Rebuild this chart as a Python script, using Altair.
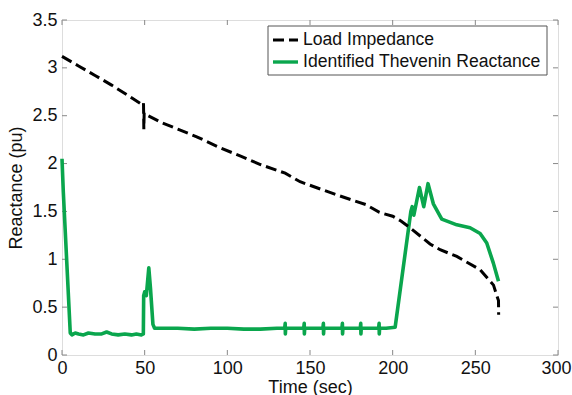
import altair as alt
import pandas as pd

# ---- data ----
load_t = [0, 10, 20, 30, 41, 49, 49.3, 49.5, 49.7, 51, 60, 70, 81.5, 95, 107.7, 120, 135, 144,
          165, 184, 192, 200, 205, 210.5, 222.6, 228.7, 238.8, 253, 261, 263, 264, 264.1]
load_v = [3.12, 3.02, 2.92, 2.82, 2.70, 2.61, 2.63, 2.36, 2.53, 2.51, 2.43, 2.36, 2.28, 2.17, 2.08,
          1.99, 1.90, 1.81, 1.68, 1.57, 1.49, 1.45, 1.40, 1.33, 1.16, 1.10, 1.03, 0.89, 0.73, 0.62,
          0.57, 0.42]

thev_t = [0, 0.8, 5, 6, 8, 10, 13, 16, 20, 24, 27, 30, 34, 38, 42, 45, 48, 49.2, 49.4, 50, 51,
          52.5, 53.5, 55, 56, 60, 70, 80, 90, 100, 110, 120, 130,
          134.7, 135, 135.1, 135.3, 146.2, 146.5, 146.6, 146.8, 157.8, 158.1, 158.2, 158.4,
          169.3, 169.6, 169.7, 169.9, 180.4, 180.7, 180.8, 181.0, 191.5, 191.8, 191.9, 192.1,
          196, 201.5, 211, 211.8, 212.8, 216.2, 218.8, 221.4, 224.6, 229.7, 238.8, 246.8,
          252.9, 256.9, 260.9, 264]
thev_v = [2.05, 1.70, 0.23, 0.21, 0.23, 0.22, 0.21, 0.23, 0.22, 0.22, 0.24, 0.22, 0.21, 0.22, 0.21,
          0.22, 0.21, 0.22, 0.62, 0.66, 0.62, 0.91, 0.70, 0.32, 0.28, 0.28, 0.28, 0.27, 0.28, 0.28,
          0.27, 0.27, 0.28,
          0.28, 0.33, 0.22, 0.28, 0.28, 0.33, 0.22, 0.28, 0.28, 0.33, 0.22, 0.28,
          0.28, 0.33, 0.22, 0.28, 0.28, 0.33, 0.22, 0.28, 0.28, 0.33, 0.22, 0.28,
          0.28, 0.29, 1.50, 1.55, 1.46, 1.75, 1.55, 1.79, 1.58, 1.42, 1.36, 1.33,
          1.27, 1.17, 0.96, 0.77]

series_names = ["Load Impedance", "Identified Thevenin Reactance"]
series_colors = ["#000000", "#0aa64d"]
x_ticks = [0, 50, 100, 150, 200, 250, 300]
y_ticks = [0, 0.5, 1, 1.5, 2, 2.5, 3, 3.5]

load_df = pd.DataFrame({"t": load_t, "v": load_v, "series": series_names[0]})
thev_df = pd.DataFrame({"t": thev_t, "v": thev_v, "series": series_names[1]})
xt_df = pd.DataFrame({"t": x_ticks})
yt_df = pd.DataFrame({"v": y_ticks})

W, H = 496, 335
FONT = "Liberation Sans"
FS = 18
LFS = 17.6
DASH = [11, 5]

xscale = alt.Scale(domain=[0, 300], nice=False, zero=False)
yscale = alt.Scale(domain=[0, 3.5], nice=False, zero=False)

xax = alt.X("t:Q", scale=xscale, axis=alt.Axis(
    title="Time (sec)", values=x_ticks, tickSize=0, domain=False, grid=False,
    labelFontSize=FS, labelPadding=4, titleFontSize=FS,
    titleY=37, titleBaseline="alphabetic",
    labelOffset={"condition": {"test": "datum.value >= 300", "value": -2}, "value": 0},
    labelFont=FONT, titleFont=FONT, titleFontWeight="normal", labelColor="#111", titleColor="#111",
    labelFlush=False))
yax = alt.Y("v:Q", scale=yscale, axis=alt.Axis(
    title="Reactance (pu)", values=y_ticks, tickSize=0, domain=False, grid=False,
    labelFontSize=FS, labelPadding=5, titleFontSize=FS, titlePadding=6,
    labelFont=FONT, titleFont=FONT, titleFontWeight="normal", labelColor="#111", titleColor="#111",
    labelFlush=False, format="~g"))

thev = alt.Chart(thev_df).mark_line(strokeWidth=3.6, strokeJoin="round", color=series_colors[1]).encode(
    x=xax, y=yax)
load = alt.Chart(load_df).mark_line(strokeWidth=3, color=series_colors[0], strokeDash=DASH).encode(
    x=alt.X("t:Q", scale=xscale), y=alt.Y("v:Q", scale=yscale))

tick_col = "#888888"
xt_bottom = alt.Chart(xt_df).mark_rule(color=tick_col, strokeWidth=1).encode(
    x=alt.X("t:Q", scale=xscale), y=alt.value(H), y2=alt.value(H - 5))
xt_top = alt.Chart(xt_df).mark_rule(color=tick_col, strokeWidth=1).encode(
    x=alt.X("t:Q", scale=xscale), y=alt.value(0), y2=alt.value(5))
yt_left = alt.Chart(yt_df).mark_rule(color=tick_col, strokeWidth=1).encode(
    y=alt.Y("v:Q", scale=yscale), x=alt.value(0), x2=alt.value(5))
yt_right = alt.Chart(yt_df).mark_rule(color=tick_col, strokeWidth=1).encode(
    y=alt.Y("v:Q", scale=yscale), x=alt.value(W), x2=alt.value(W - 5))

# ---- legend (drawn as marks, top-right inside the plot) ----
leg_df0 = pd.DataFrame({"s": [series_names[0]]})
leg_df1 = pd.DataFrame({"s": [series_names[1]]})
leg_box = alt.Chart(leg_df0).mark_rect(fill="white", stroke="#555555", strokeWidth=1).encode(
    x=alt.value(206), x2=alt.value(485), y=alt.value(6), y2=alt.value(55))
leg_sym0 = alt.Chart(leg_df0).mark_rule(color=series_colors[0], strokeWidth=3, strokeDash=DASH).encode(
    x=alt.value(211), x2=alt.value(236), y=alt.value(20))
leg_sym1 = alt.Chart(leg_df1).mark_rule(color=series_colors[1], strokeWidth=3.4).encode(
    x=alt.value(211), x2=alt.value(236), y=alt.value(42))
leg_txt0 = alt.Chart(leg_df0).mark_text(align="left", baseline="middle", font=FONT, fontSize=LFS,
                                         color="#111").encode(text="s:N", x=alt.value(241), y=alt.value(20))
leg_txt1 = alt.Chart(leg_df1).mark_text(align="left", baseline="middle", font=FONT, fontSize=LFS,
                                         color="#111").encode(text="s:N", x=alt.value(241), y=alt.value(42))

chart = alt.layer(xt_bottom, xt_top, yt_left, yt_right, thev, load,
                  leg_box, leg_sym0, leg_sym1, leg_txt0, leg_txt1).properties(
    width=W, height=H,
    autosize="none",
    padding={"left": 62, "top": 20, "right": 14, "bottom": 40},
).configure_view(stroke="#888888", strokeWidth=1).configure(background="white")

chart.save("out.html", embed_options={"renderer": "svg", "actions": False})
